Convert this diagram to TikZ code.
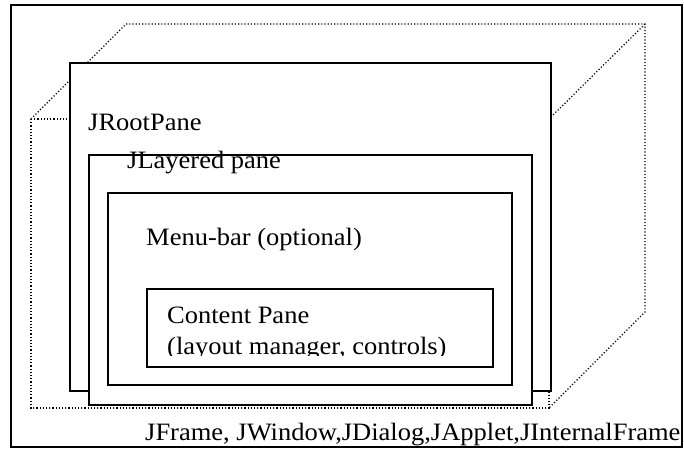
\documentclass[tikz,border=0pt]{standalone}
\usepackage{fontspec}
\setmainfont[FakeStretch=1.06]{Liberation Serif}

\begin{document}
\begin{tikzpicture}[x=1pt,y=-1pt,
  pane/.style={draw,line width=1.6pt,fill=white,rectangle,anchor=north west,inner sep=0pt},
  hidden/.style={dotted,line width=1.2pt},
  lbl/.style={anchor=base west,inner sep=0pt,font=\fontsize{25}{30}\selectfont}]

  \useasboundingbox (0,0) rectangle (684,449);

  % outer frame
  \draw[line width=1.4pt] (11,5) rectangle (682,447);

  % dotted box behind the panes
  \coordinate (bknw) at (126,24);
  \coordinate (bkne) at (645,24);
  \coordinate (bkse) at (645,312);
  \coordinate (frnw) at (31,119);
  \coordinate (frne) at (549,119);
  \coordinate (frse) at (549,408);
  \coordinate (frsw) at (31,408);
  \draw[hidden] (frnw) -- (bknw) -- (bkne) -- (bkse) -- (frse);
  \draw[hidden] (bkne) -- (frne);
  \draw[hidden] (frnw) -- (frne) -- (frse) -- (frsw) -- cycle;

  % panes
  \node[pane, minimum width=481pt, minimum height=328pt] (root)    at (69,62)   {};
  \node[pane, minimum width=443pt, minimum height=250pt] (layered) at (88,154)  {};
  \node[pane, minimum width=404pt, minimum height=192pt] (menu)    at (107,192) {};
  \node[pane, minimum width=346pt, minimum height=78pt]  (content) at (146,288) {};

  % labels
  \node[lbl] (rootlbl)    at (88,131)  {JRootPane};
  \node[lbl] (layeredlbl) at (127,168) {JLayered pane};
  \node[lbl] (menulbl)    at (146,245) {Menu-bar (optional)};
  \node[lbl] (contentlbl) at (167,323) {Content Pane};
  \begin{scope}
    \clip (146,288) rectangle (492,355);
    \node[lbl] (layoutlbl) at (167,354) {(layout manager, controls)};
  \end{scope}
  \node[lbl] (framelbl) at (145,440) {JFrame, JWindow,JDialog,JApplet,JInternalFrame};

\end{tikzpicture}
\end{document}
